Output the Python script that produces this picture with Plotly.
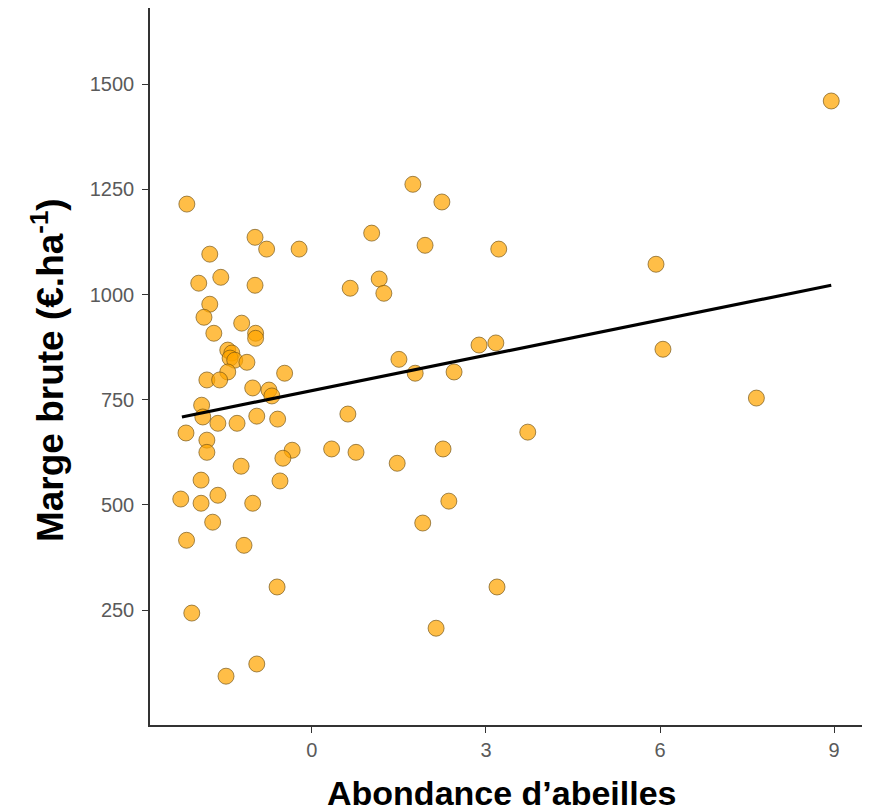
import plotly.graph_objects as go

# Data
abondance = [8.95, -2.155, -0.98, -0.78, -0.22, -1.76, -1.57, -1.95, -0.98, -1.76,
             -1.86, -1.69, -1.21, -0.97, -0.97, -1.45, -1.38, -1.41, -1.33, -1.12,
             -1.45, -1.81, -1.59, -0.47, -1.02, -0.74, -0.69, -1.90, -1.88, -1.62,
             -1.29, -0.95, -0.59, -2.17, -1.81, -1.81, -0.34, -0.50, -1.22, -1.91,
             -0.55, -2.26, -1.91, -1.62, -1.02, -1.71, -2.16, -1.17, -0.60, -2.07,
             -0.95, -1.48, 1.74, 2.24, 1.03, 1.95, 3.22, 0.66, 1.16, 1.24,
             2.88, 3.17, 1.50, 1.78, 2.45, 0.62, 3.72, 0.34, 0.76, 2.26,
             1.47, 2.36, 1.91, 3.19, 2.14, 5.93, 6.05, 7.66]
marge_brute = [1460, 1215, 1136, 1108, 1108, 1096, 1041, 1027, 1022, 977,
               946, 908, 932, 908, 896, 868, 861, 849, 844, 839,
               816, 797, 797, 813, 778, 773, 759, 737, 709, 694,
               694, 711, 704, 671, 654, 625, 630, 611, 592, 559,
               557, 514, 504, 523, 504, 459, 416, 404, 305, 243,
               122, 93, 1262, 1220, 1146, 1117, 1108, 1015, 1037, 1003,
               880, 885, 846, 813, 816, 716, 673, 633, 625, 633,
               599, 509, 457, 305, 207, 1072, 870, 754]

fit_x = [-2.24, 8.95]
fit_y = [709, 1022]

x_ticks = [0, 3, 6, 9]
y_ticks = [250, 500, 750, 1000, 1250, 1500]

fig = go.Figure()
fig.add_trace(go.Scatter(
    x=abondance, y=marge_brute, mode="markers",
    marker=dict(size=16, color="rgba(255,165,0,0.72)",
                line=dict(color="rgba(110,80,20,0.65)", width=1)),
    showlegend=False, hoverinfo="x+y"))
fig.add_trace(go.Scatter(
    x=fit_x, y=fit_y, mode="lines",
    line=dict(color="black", width=3.2),
    showlegend=False, hoverinfo="skip"))

tick_font = dict(family="Liberation Sans Narrow, Arial Narrow, Liberation Sans, sans-serif",
                 size=20, color="#5a5a5a")
axis_common = dict(
    showgrid=False, zeroline=False, showline=True,
    linecolor="#333333", linewidth=1.5,
    ticks="outside", ticklen=6, tickwidth=1.2, tickcolor="#333333",
    tickfont=tick_font,
)

fig.update_layout(
    width=874, height=804,
    paper_bgcolor="white", plot_bgcolor="white",
    margin=dict(l=142, r=20, t=0, b=87),
    xaxis=dict(range=[-2.79, 9.48], tickvals=x_ticks, **axis_common),
    yaxis=dict(range=[-23, 1681], tickvals=y_ticks, ticklabelstandoff=4, **axis_common),
    annotations=[
        dict(text="<b>Abondance d’abeilles</b>", xref="paper", yref="paper",
             x=0.495, y=0, yshift=-68, xanchor="center", yanchor="middle",
             showarrow=False,
             font=dict(family="Liberation Sans, Arial, sans-serif", size=34, color="black")),
        dict(text="<b>Marge brute (€.ha<sup>-1</sup>)</b>", xref="paper", yref="paper",
             x=0, y=0.495, xshift=-102, xanchor="center", yanchor="middle",
             textangle=-90, showarrow=False,
             font=dict(family="Liberation Sans, Arial, sans-serif", size=37, color="black")),
    ],
)

fig.write_html("out.html")
